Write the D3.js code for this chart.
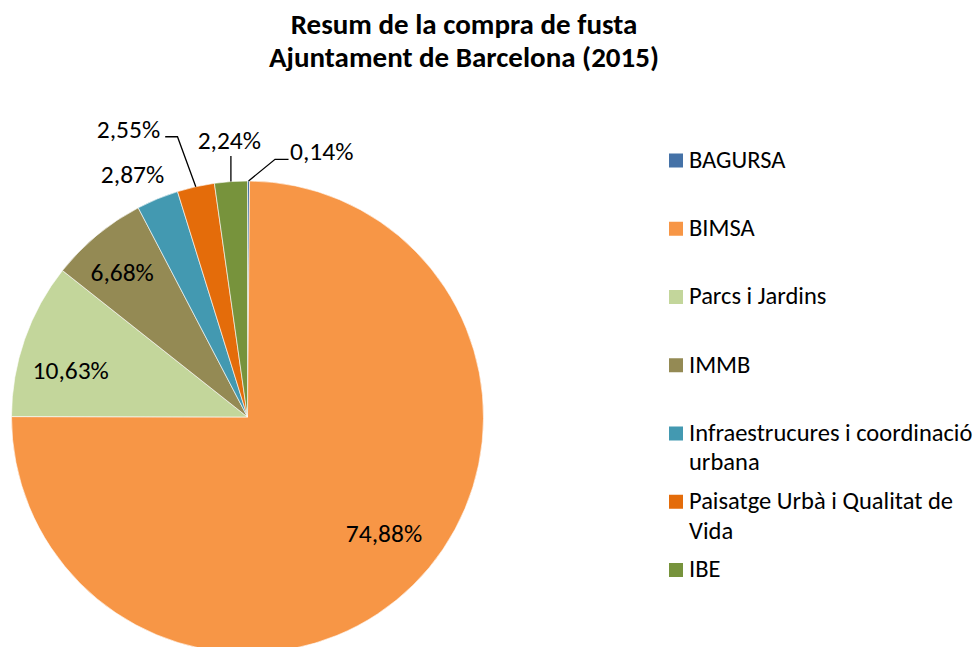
<!DOCTYPE html>
<html>
<head>
<meta charset="utf-8">
<script src="https://cdn.jsdelivr.net/npm/d3@7"></script>
<style>
  body { margin: 0; background: #fff; }
  svg { font-family: Carlito, Lato, sans-serif; }
</style>
</head>
<body>
<svg id="chart" width="976" height="647"></svg>
<script>
// dades (percentatges llegits del gràfic)
const categories = ["BAGURSA", "BIMSA", "Parcs i Jardins", "IMMB",
  "Infraestrucures i coordinació urbana", "Paisatge Urbà i Qualitat de Vida", "IBE"];
const values = [0.14, 74.88, 10.63, 6.68, 2.87, 2.55, 2.24];
const colors = ["#4572A7", "#F79646", "#C3D69B", "#948A54", "#4399B1", "#E46C0A", "#77933C"];
const titleLines = ["Resum de la compra de fusta", "Ajuntament de Barcelona (2015)"];

// ajust de les etiquetes interiors (respecte al centroide)
const innerShift = {
  "BIMSA": [7, -15],
  "Parcs i Jardins": [-3, 13.5],
  "IMMB": [-8, -3]
};

// posicio de les etiquetes exteriors (relativa al punt de la vora)
const outerLabels = {
  "BAGURSA": {anchor: "start", dx: 41.5, dy: -21, leader: [[26.5, -21.7], [40, -21.7]]},
  "Infraestrucures i coordinació urbana": {anchor: "middle", dx: -25, dy: -15.5, leader: null},
  "Paisatge Urbà i Qualitat de Vida": {anchor: "end", dx: -35.6, dy: -48.5, leader: [[-18.3, -50], [-30.6, -50]]},
  "IBE": {anchor: "middle", dx: -1.6, dy: -32.3, leader: [[0, -25.6]]}
};

const svg = d3.select("#chart");
const cx = 247.5, cy = 417, radius = 236;

const locale = d3.formatLocale({decimal: ",", thousands: ".", grouping: [3], currency: ["", "€"]});
const fmt = v => locale.format(".2f")(v) + "%";

// titol
svg.append("g").selectAll("text")
  .data(titleLines)
  .enter().append("text")
  .attr("x", 464)
  .attr("y", (d, i) => 34 + i * 33)
  .attr("text-anchor", "middle")
  .style("font-size", "29px")
  .style("font-weight", "bold")
  .style("fill", "#000")
  .text(d => d);

const data = categories.map((c, i) => ({name: c, value: values[i], color: colors[i]}));

const pie = d3.pie().sort(null).value(d => d.value);
const arcs = pie(data);

const arc = d3.arc().innerRadius(0).outerRadius(radius);
const labelArc = d3.arc().innerRadius(radius * 0.78).outerRadius(radius * 0.78);
const edgeArc = d3.arc().innerRadius(radius).outerRadius(radius);

const g = svg.append("g").attr("transform", "translate(" + cx + "," + cy + ")");

g.selectAll("path.slice")
  .data(arcs)
  .enter().append("path")
  .attr("class", "slice")
  .attr("d", arc)
  .style("fill", d => d.data.color)
  .style("stroke", "#fff")
  .style("stroke-width", 0.6);

// etiquetes interiors
g.selectAll("text.inner")
  .data(arcs.filter(d => !outerLabels[d.data.name]))
  .enter().append("text")
  .attr("class", "inner")
  .attr("x", d => labelArc.centroid(d)[0] + (innerShift[d.data.name] || [0, 0])[0])
  .attr("y", d => labelArc.centroid(d)[1] + (innerShift[d.data.name] || [0, 0])[1])
  .attr("dy", "0.35em")
  .attr("text-anchor", "middle")
  .style("font-size", "25.5px")
  .style("fill", "#000")
  .text(d => fmt(d.data.value));

// etiquetes exteriors amb linies guia
const outer = arcs.filter(d => outerLabels[d.data.name]);
outer.forEach(d => {
  const o = outerLabels[d.data.name];
  const p = edgeArc.centroid(d);
  if (o.leader) {
    const pts = [p].concat(o.leader.map(q => [p[0] + q[0], p[1] + q[1]]));
    g.append("path")
      .attr("d", d3.line()(pts))
      .style("fill", "none")
      .style("stroke", "#000")
      .style("stroke-width", 1.3);
  }
  g.append("text")
    .attr("x", p[0] + o.dx)
    .attr("y", p[1] + o.dy)
    .attr("text-anchor", o.anchor)
    .style("font-size", "25.5px")
    .style("fill", "#000")
    .text(fmt(d.data.value));
});

// llegenda
const ly = d3.scalePoint().domain(categories).range([160.5, 570]);
const legend = svg.append("g");
const items = legend.selectAll("g")
  .data(data)
  .enter().append("g")
  .attr("transform", d => "translate(669," + ly(d.name) + ")");

items.append("rect")
  .attr("x", 0).attr("y", -7)
  .attr("width", 14).attr("height", 14)
  .style("fill", d => d.color);

items.append("text")
  .attr("x", 20)
  .attr("y", 0)
  .style("font-size", "24.5px")
  .style("fill", "#000")
  .each(function(d) {
    // ajust de linies segons l'amplada disponible
    const t = d3.select(this);
    const words = d.name.split(" ");
    let line = [];
    let tspan = t.append("tspan").attr("x", 20).attr("dy", "0.3em");
    words.forEach(w => {
      line.push(w);
      tspan.text(line.join(" "));
      if (tspan.node().getComputedTextLength() > 287 && line.length > 1) {
        line.pop();
        tspan.text(line.join(" "));
        line = [w];
        tspan = t.append("tspan").attr("x", 20).attr("dy", "29.5px").text(w);
      }
    });
  });
</script>
</body>
</html>
